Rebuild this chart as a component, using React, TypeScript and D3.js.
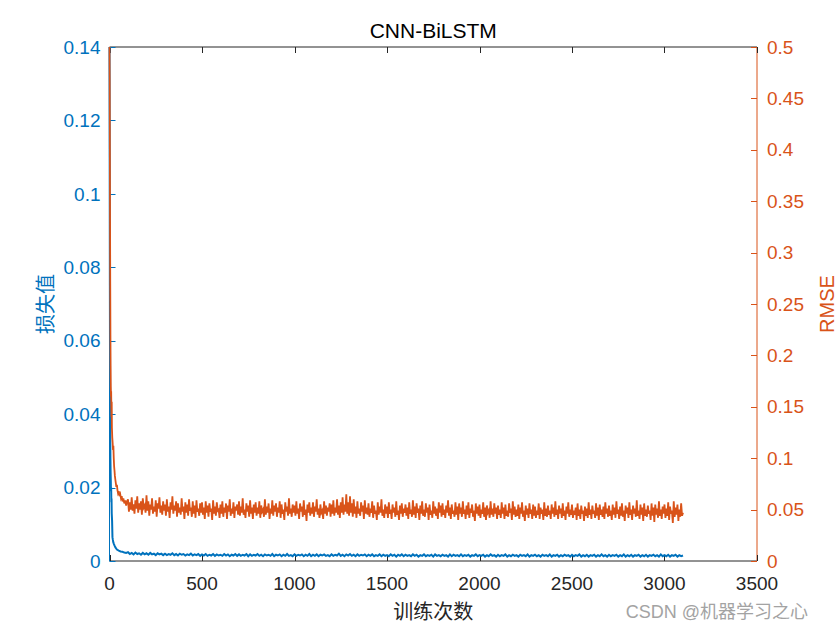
import React, { useEffect, useRef } from "react";
import * as d3 from "d3";

// first iterations, read point by point (steep drop)
const rmseEarlyIter = [0, 1, 2, 3, 4, 5, 6, 7, 8, 9, 10, 11, 12, 13, 14, 15, 17, 19, 21, 23, 25, 27, 29, 31, 34, 37, 40, 43, 46, 50, 54, 58, 62, 66, 70, 75, 80, 85, 90, 95];
const rmseEarly = [0.5, 0.47, 0.4, 0.33, 0.27, 0.22, 0.19, 0.17, 0.16, 0.165, 0.15, 0.14, 0.155, 0.13, 0.125, 0.12, 0.115, 0.108, 0.112, 0.1, 0.092, 0.088, 0.083, 0.08, 0.076, 0.072, 0.074, 0.069, 0.066, 0.068, 0.063, 0.065, 0.061, 0.063, 0.058, 0.061, 0.056, 0.059, 0.054, 0.058];

const lossEarlyIter = [0, 1, 2, 3, 4, 5, 6, 7, 8, 9, 10, 11, 12, 14, 16, 18, 20, 24, 28, 32, 36, 40, 50, 60, 70, 80, 90];
const lossEarly = [0.14, 0.11, 0.075, 0.05, 0.034, 0.028, 0.024, 0.022, 0.019, 0.02, 0.016, 0.017, 0.013, 0.011, 0.0065, 0.0058, 0.0052, 0.0046, 0.0041, 0.0037, 0.0034, 0.0031, 0.0028, 0.0026, 0.0025, 0.0023, 0.0022];

// from iteration 100 on: RMSE every 5 iterations, loss every 10
const rmseStart = 100;
const rmseStep = 5;
const rmseMain = [
  0.06, 0.048, 0.057, 0.05, 0.062, 0.049, 0.055, 0.046, 0.059, 0.051, 0.063, 0.047, 0.056, 0.05, 0.058, 0.045, 0.061, 0.052, 0.054, 0.047,
  0.064, 0.049, 0.058, 0.044, 0.055, 0.05, 0.061, 0.046, 0.053, 0.048, 0.059, 0.043, 0.056, 0.051, 0.062, 0.047, 0.054, 0.045, 0.058, 0.049,
  0.055, 0.044, 0.06, 0.048, 0.053, 0.042, 0.057, 0.05, 0.063, 0.046, 0.054, 0.049, 0.058, 0.043, 0.056, 0.047, 0.052, 0.045, 0.061, 0.048,
  0.053, 0.041, 0.057, 0.047, 0.055, 0.044, 0.06, 0.049, 0.052, 0.043, 0.058, 0.046, 0.054, 0.042, 0.059, 0.048, 0.051, 0.044, 0.056, 0.047,
  0.057, 0.045, 0.052, 0.041, 0.058, 0.047, 0.054, 0.043, 0.056, 0.048, 0.051, 0.04, 0.059, 0.046, 0.053, 0.044, 0.057, 0.049, 0.05, 0.042,
  0.055, 0.046, 0.058, 0.043, 0.052, 0.047, 0.056, 0.041, 0.054, 0.048, 0.06, 0.044, 0.051, 0.046, 0.057, 0.042, 0.053, 0.049, 0.055, 0.045,
  0.058, 0.044, 0.053, 0.047, 0.061, 0.045, 0.05, 0.042, 0.056, 0.048, 0.054, 0.043, 0.059, 0.046, 0.052, 0.041, 0.055, 0.047, 0.057, 0.044,
  0.052, 0.046, 0.058, 0.042, 0.054, 0.048, 0.05, 0.043, 0.06, 0.045, 0.053, 0.047, 0.056, 0.041, 0.051, 0.046, 0.059, 0.044, 0.054, 0.048,
  0.056, 0.043, 0.052, 0.047, 0.058, 0.042, 0.055, 0.046, 0.05, 0.04, 0.057, 0.048, 0.053, 0.044, 0.061, 0.046, 0.051, 0.043, 0.055, 0.047,
  0.054, 0.044, 0.058, 0.046, 0.051, 0.041, 0.056, 0.048, 0.053, 0.043, 0.059, 0.045, 0.05, 0.039, 0.055, 0.047, 0.057, 0.044, 0.052, 0.046,
  0.057, 0.043, 0.053, 0.048, 0.06, 0.045, 0.051, 0.042, 0.055, 0.047, 0.049, 0.041, 0.058, 0.046, 0.054, 0.044, 0.052, 0.048, 0.056, 0.043,
  0.055, 0.046, 0.059, 0.044, 0.052, 0.047, 0.06, 0.045, 0.054, 0.042, 0.057, 0.047, 0.062, 0.045, 0.055, 0.048, 0.065, 0.046, 0.057, 0.044,
  0.063, 0.047, 0.056, 0.043, 0.06, 0.046, 0.053, 0.042, 0.058, 0.046, 0.051, 0.044, 0.057, 0.048, 0.054, 0.041, 0.059, 0.046, 0.052, 0.045,
  0.056, 0.043, 0.051, 0.047, 0.058, 0.042, 0.054, 0.046, 0.049, 0.04, 0.057, 0.045, 0.053, 0.047, 0.06, 0.044, 0.05, 0.042, 0.055, 0.046,
  0.053, 0.042, 0.057, 0.046, 0.05, 0.041, 0.055, 0.047, 0.052, 0.043, 0.058, 0.045, 0.049, 0.04, 0.054, 0.046, 0.056, 0.043, 0.051, 0.047,
  0.055, 0.044, 0.052, 0.041, 0.057, 0.046, 0.05, 0.043, 0.059, 0.045, 0.053, 0.042, 0.056, 0.047, 0.051, 0.04, 0.054, 0.046, 0.058, 0.044,
  0.05, 0.043, 0.056, 0.047, 0.052, 0.04, 0.055, 0.045, 0.049, 0.042, 0.058, 0.046, 0.053, 0.044, 0.051, 0.041, 0.057, 0.047, 0.054, 0.043,
  0.056, 0.045, 0.05, 0.042, 0.054, 0.047, 0.059, 0.044, 0.052, 0.041, 0.055, 0.046, 0.049, 0.043, 0.057, 0.045, 0.053, 0.04, 0.056, 0.046,
  0.052, 0.043, 0.058, 0.046, 0.05, 0.041, 0.054, 0.045, 0.057, 0.042, 0.051, 0.047, 0.055, 0.043, 0.049, 0.039, 0.056, 0.046, 0.053, 0.044,
  0.055, 0.042, 0.05, 0.046, 0.057, 0.043, 0.052, 0.04, 0.054, 0.047, 0.049, 0.042, 0.058, 0.045, 0.051, 0.043, 0.056, 0.046, 0.052, 0.041,
  0.054, 0.045, 0.05, 0.042, 0.057, 0.046, 0.052, 0.041, 0.055, 0.044, 0.049, 0.043, 0.056, 0.047, 0.051, 0.04, 0.058, 0.045, 0.053, 0.043,
  0.05, 0.044, 0.055, 0.041, 0.052, 0.046, 0.057, 0.043, 0.049, 0.039, 0.054, 0.045, 0.051, 0.042, 0.056, 0.046, 0.05, 0.041, 0.055, 0.044,
  0.053, 0.042, 0.049, 0.045, 0.056, 0.041, 0.052, 0.046, 0.05, 0.04, 0.057, 0.044, 0.051, 0.043, 0.054, 0.045, 0.049, 0.041, 0.055, 0.046,
  0.052, 0.043, 0.058, 0.045, 0.05, 0.041, 0.054, 0.046, 0.051, 0.042, 0.056, 0.044, 0.049, 0.04, 0.053, 0.046, 0.057, 0.043, 0.05, 0.045,
  0.055, 0.042, 0.049, 0.045, 0.052, 0.04, 0.056, 0.044, 0.05, 0.041, 0.054, 0.046, 0.049, 0.039, 0.053, 0.044, 0.051, 0.042, 0.057, 0.045,
  0.05, 0.041, 0.054, 0.046, 0.049, 0.042, 0.056, 0.044, 0.052, 0.04, 0.055, 0.045, 0.05, 0.043, 0.053, 0.041, 0.057, 0.046, 0.051, 0.043,
  0.054, 0.044, 0.049, 0.04, 0.055, 0.045, 0.052, 0.042, 0.058, 0.046, 0.05, 0.041, 0.053, 0.044, 0.056, 0.043, 0.049, 0.039, 0.054, 0.046,
  0.052, 0.042, 0.057, 0.045, 0.05, 0.04, 0.054, 0.046, 0.051, 0.043, 0.059, 0.044, 0.049, 0.041, 0.055, 0.045, 0.052, 0.039, 0.056, 0.044,
  0.05, 0.043, 0.054, 0.046, 0.049, 0.04, 0.056, 0.044, 0.052, 0.038, 0.055, 0.045, 0.051, 0.042, 0.058, 0.044, 0.05, 0.041, 0.053, 0.046,
  0.055, 0.042, 0.051, 0.044, 0.057, 0.04, 0.053, 0.046, 0.049, 0.037, 0.058, 0.043, 0.052, 0.045, 0.055, 0.039, 0.05, 0.043, 0.056, 0.044,
  0.047,
];

const lossStart = 100;
const lossStep = 10;
const lossMain = [
  0.0024, 0.0019, 0.0022, 0.0018, 0.0023, 0.0019, 0.0021, 0.0017, 0.0022, 0.0018,
  0.0021, 0.0017, 0.0022, 0.0018, 0.002, 0.0016, 0.0021, 0.0018, 0.002, 0.0016,
  0.002, 0.0016, 0.0019, 0.0017, 0.0021, 0.0016, 0.0019, 0.0015, 0.002, 0.0017,
  0.0019, 0.0015, 0.0018, 0.0016, 0.002, 0.0015, 0.0018, 0.0016, 0.0019, 0.0014,
  0.0018, 0.0015, 0.0019, 0.0014, 0.0017, 0.0015, 0.0019, 0.0014, 0.0018, 0.0015,
  0.0017, 0.0014, 0.0019, 0.0015, 0.0018, 0.0013, 0.0017, 0.0015, 0.0019, 0.0014,
  0.0018, 0.0014, 0.0017, 0.0015, 0.0019, 0.0013, 0.0018, 0.0014, 0.0017, 0.0015,
  0.0019, 0.0014, 0.0017, 0.0013, 0.0018, 0.0015, 0.0017, 0.0014, 0.0019, 0.0013,
  0.0017, 0.0015, 0.0018, 0.0013, 0.0017, 0.0014, 0.0019, 0.0014, 0.0016, 0.0013,
  0.0018, 0.0014, 0.0017, 0.0015, 0.0018, 0.0013, 0.0017, 0.0014, 0.0019, 0.0013,
  0.0017, 0.0014, 0.0018, 0.0013, 0.0017, 0.0015, 0.0018, 0.0014, 0.0016, 0.0013,
  0.0018, 0.0014, 0.0017, 0.0015, 0.002, 0.0014, 0.0017, 0.0013, 0.0018, 0.0015,
  0.0019, 0.0014, 0.0017, 0.0013, 0.0018, 0.0014, 0.0017, 0.0015, 0.0018, 0.0013,
  0.0017, 0.0014, 0.0018, 0.0013, 0.0016, 0.0014, 0.0018, 0.0013, 0.0017, 0.0014,
  0.0016, 0.0013, 0.0018, 0.0014, 0.0017, 0.0012, 0.0017, 0.0014, 0.0018, 0.0013,
  0.0017, 0.0014, 0.0016, 0.0013, 0.0018, 0.0014, 0.0017, 0.0012, 0.0016, 0.0014,
  0.0018, 0.0013, 0.0016, 0.0014, 0.0017, 0.0012, 0.0018, 0.0014, 0.0016, 0.0013,
  0.0017, 0.0014, 0.0016, 0.0012, 0.0018, 0.0013, 0.0017, 0.0014, 0.0016, 0.0013,
  0.0018, 0.0013, 0.0016, 0.0014, 0.0017, 0.0012, 0.0016, 0.0014, 0.0018, 0.0013,
  0.0016, 0.0014, 0.0017, 0.0012, 0.0016, 0.0013, 0.0018, 0.0014, 0.0016, 0.0012,
  0.0017, 0.0013, 0.0016, 0.0014, 0.0018, 0.0012, 0.0016, 0.0013, 0.0017, 0.0014,
  0.0016, 0.0012, 0.0017, 0.0014, 0.0016, 0.0013, 0.0018, 0.0012, 0.0016, 0.0014,
  0.0017, 0.0013, 0.0016, 0.0012, 0.0017, 0.0014, 0.0016, 0.0013, 0.0018, 0.0012,
  0.0016, 0.0014, 0.0017, 0.0012, 0.0016, 0.0013, 0.0017, 0.0014, 0.0016, 0.0012,
  0.0017, 0.0013, 0.0016, 0.0014, 0.0018, 0.0012, 0.0016, 0.0013, 0.0017, 0.0012,
  0.0016, 0.0014, 0.0017, 0.0012, 0.0016, 0.0013, 0.0018, 0.0013, 0.0016, 0.0012,
  0.0017, 0.0013, 0.0016, 0.0014, 0.0017, 0.0012, 0.0016, 0.0013, 0.0018, 0.0012,
  0.0016, 0.0013, 0.0017, 0.0012, 0.0016, 0.0014, 0.0017, 0.0012, 0.0016, 0.0013,
  0.0017, 0.0012, 0.0016, 0.0014, 0.0017, 0.0013, 0.0016, 0.0012, 0.0018, 0.0013,
  0.0016, 0.0013, 0.0017, 0.0012, 0.0016, 0.0014, 0.0017, 0.0012, 0.0016, 0.0013,
  0.0015,
];

const xTicks = [0, 500, 1000, 1500, 2000, 2500, 3000, 3500];
const leftTicks = [0, 0.02, 0.04, 0.06, 0.08, 0.1, 0.12, 0.14];
const leftTickLabels = ["0", "0.02", "0.04", "0.06", "0.08", "0.1", "0.12", "0.14"];
const rightTicks = [0, 0.05, 0.1, 0.15, 0.2, 0.25, 0.3, 0.35, 0.4, 0.45, 0.5];
const rightTickLabels = ["0", "0.05", "0.1", "0.15", "0.2", "0.25", "0.3", "0.35", "0.4", "0.45", "0.5"];

const BLUE = "#0072BD";
const ORANGE = "#D95319";
const AXIS = "#262626";
const FONT = "'Liberation Sans', Arial, 'Noto Sans CJK SC', sans-serif";

const App = () => {
  const svgRef = useRef(null);

  useEffect(() => {
    document.body.style.margin = "0";
    const width = 840;
    const height = 630;
    const left = 109.5;
    const right = 757;
    const top = 47;
    const bottom = 561;
    const tickLen = 6;

    const svg = d3.select(svgRef.current).attr("width", width).attr("height", height);
    svg.selectAll("*").remove();
    svg.append("rect").attr("width", width).attr("height", height).attr("fill", "#fff");

    const x = d3.scaleLinear().domain([0, 3500]).range([left, right]);
    const yL = d3.scaleLinear().domain([0, 0.14]).range([bottom, top]);
    const yR = d3.scaleLinear().domain([0, 0.5]).range([bottom, top]);

    const rmse = [
      ...rmseEarlyIter.map((it, i) => ({ it, v: rmseEarly[i] })),
      ...rmseMain.map((v, i) => ({ it: rmseStart + i * rmseStep, v })),
    ];
    const loss = [
      ...lossEarlyIter.map((it, i) => ({ it, v: lossEarly[i] })),
      ...lossMain.map((v, i) => ({ it: lossStart + i * lossStep, v })),
    ];

    // box: top and bottom black, left blue, right orange
    svg.append("line").attr("x1", left).attr("x2", right).attr("y1", bottom).attr("y2", bottom).attr("stroke", AXIS);
    svg.append("line").attr("x1", left).attr("x2", right).attr("y1", top).attr("y2", top).attr("stroke", AXIS);
    svg.append("line").attr("x1", left).attr("x2", left).attr("y1", top).attr("y2", bottom).attr("stroke", BLUE);
    svg.append("line").attr("x1", right).attr("x2", right).attr("y1", top).attr("y2", bottom).attr("stroke", ORANGE);

    // x ticks, bottom and top, inward
    const xt = svg.append("g");
    xTicks.forEach((t) => {
      const px = Math.round(x(t)) + 0.5;
      xt.append("line").attr("x1", px).attr("x2", px).attr("y1", bottom).attr("y2", bottom - tickLen).attr("stroke", AXIS);
      xt.append("line").attr("x1", px).attr("x2", px).attr("y1", top).attr("y2", top + tickLen).attr("stroke", AXIS);
      xt.append("text")
        .attr("x", x(t))
        .attr("y", 590)
        .attr("text-anchor", "middle")
        .attr("fill", AXIS)
        .style("font-family", FONT)
        .style("font-size", "19px")
        .text(String(t));
    });

    leftTicks.forEach((t, i) => {
      const py = Math.round(yL(t)) + 0.5;
      svg.append("line").attr("x1", left).attr("x2", left + tickLen).attr("y1", py).attr("y2", py).attr("stroke", BLUE);
      svg.append("text")
        .attr("x", left - 9)
        .attr("y", yL(t))
        .attr("dy", "0.35em")
        .attr("text-anchor", "end")
        .attr("fill", BLUE)
        .style("font-family", FONT)
        .style("font-size", "19px")
        .text(leftTickLabels[i]);
    });

    rightTicks.forEach((t, i) => {
      const py = Math.round(yR(t)) + 0.5;
      svg.append("line").attr("x1", right).attr("x2", right - tickLen).attr("y1", py).attr("y2", py).attr("stroke", ORANGE);
      svg.append("text")
        .attr("x", right + 10)
        .attr("y", yR(t))
        .attr("dy", "0.35em")
        .attr("text-anchor", "start")
        .attr("fill", ORANGE)
        .style("font-family", FONT)
        .style("font-size", "19px")
        .text(rightTickLabels[i]);
    });

    const lineL = d3.line().x((d) => x(d.it)).y((d) => yL(d.v));
    const lineR = d3.line().x((d) => x(d.it)).y((d) => yR(d.v));

    svg.append("path").datum(loss).attr("d", lineL).attr("fill", "none").attr("stroke", BLUE).attr("stroke-width", 2);
    svg.append("path").datum(rmse).attr("d", lineR).attr("fill", "none").attr("stroke", ORANGE).attr("stroke-width", 1.8);

    // title and labels
    svg.append("text")
      .attr("x", (left + right) / 2)
      .attr("y", 38)
      .attr("text-anchor", "middle")
      .attr("fill", "#000")
      .style("font-family", FONT)
      .style("font-size", "21px")
      .text("CNN-BiLSTM");

    svg.append("text")
      .attr("x", (left + right) / 2)
      .attr("y", 619)
      .attr("text-anchor", "middle")
      .attr("fill", AXIS)
      .style("font-family", FONT)
      .style("font-size", "20px")
      .text("训练次数");

    svg.append("text")
      .attr("transform", `translate(53,${(top + bottom) / 2}) rotate(-90)`)
      .attr("text-anchor", "middle")
      .attr("fill", BLUE)
      .style("font-family", FONT)
      .style("font-size", "20px")
      .text("损失值");

    svg.append("text")
      .attr("transform", `translate(834,${(top + bottom) / 2}) rotate(-90)`)
      .attr("text-anchor", "middle")
      .attr("fill", ORANGE)
      .style("font-family", FONT)
      .style("font-size", "20px")
      .text("RMSE");

    svg.append("text")
      .attr("x", 808)
      .attr("y", 618)
      .attr("text-anchor", "end")
      .attr("fill", "#a3a3a3")
      .style("font-family", FONT)
      .style("font-size", "18px")
      .text("CSDN @机器学习之心");
  }, []);

  return <svg ref={svgRef} style={{ display: "block" }}></svg>;
};

export default App;
